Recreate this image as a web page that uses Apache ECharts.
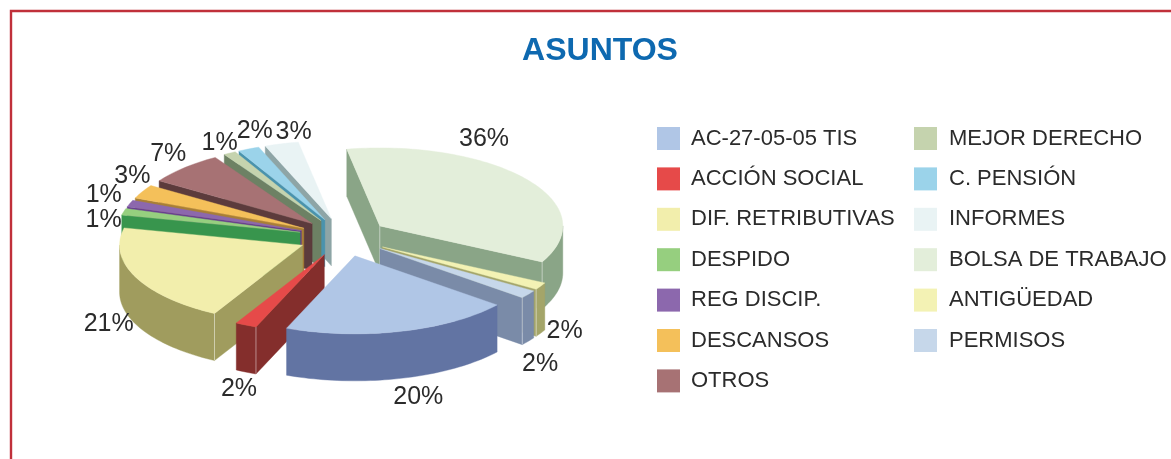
<!DOCTYPE html>
<html><head><meta charset="utf-8">
<style>html,body{margin:0;padding:0;background:#fff;overflow:hidden}#c{width:1171px;height:459px}</style>
<script src="https://cdn.jsdelivr.net/npm/echarts@6/dist/echarts.min.js"></script>
</head><body><div id="c"></div>
<script>
// Data, clockwise in legend order
const categories = ['AC-27-05-05 TIS','ACCIÓN SOCIAL','DIF. RETRIBUTIVAS','DESPIDO','REG DISCIP.','DESCANSOS','OTROS','MEJOR DERECHO','C. PENSIÓN','INFORMES','BOLSA DE TRABAJO','ANTIGÜEDAD','PERMISOS'];
const percentages = [20.3,1.9,20.6,1.4,1.4,2.9,6.9,1.1,1.9,3.0,35.6,1.5,1.7];
// Styles
const topColors = ['#b0c6e6','#e64a49','#f2eeac','#96cf7f','#8c68ad','#f4c05a','#a77274','#c5d3ae','#9bd3ea','#e9f3f4','#e3eeda','#f3f2b4','#c6d7ea'];
const sideColors = ['#6274a3','#842e2c','#a09c5e','#38954d','#65398d','#a87f36','#5c3b3c','#6d8164','#4a93ad','#8ea5a6','#8aa587','#a4a569','#7a8ba8'];
// Layout
const center = [343.6,237.3], rx = 183, ry = 78, depth = 47, explode = 45, startDeg = 129;
const labelNudges = [[17.5,65.6],[-7,64],[-27,47],[-20,8],[-26,-8],[-10,-16],[-16,-14],[-10,-10],[6,-18],[12,-12],[-43,-40],[24,45],[12,70]];

const rad = d => d*Math.PI/180;
const total = percentages.reduce((a,b)=>a+b,0);
let cum = startDeg;
const slices = percentages.map((v,i)=>{const s=cum,e=cum+v/total*360;cum=e;return {i,s,e,b:(s+e)/2};});

function renderSlice(sl){
  return function(params, api){
    const v = api.value(0);
    const bRad = rad(sl.b);
    const ax = center[0]+explode*Math.sin(bRad);
    const ay = center[1]-explode*(ry/rx)*Math.cos(bRad);
    const pt = t => [ax+rx*Math.sin(rad(t)), ay-ry*Math.cos(rad(t))];
    const down = p => [p[0],p[1]+depth];
    const children = [];
    const top = topColors[sl.i], side = sideColors[sl.i];
    const poly = (pts,fill)=>children.push({type:'polygon',shape:{points:pts},style:{fill,stroke:fill,lineWidth:0.4}});
    const seam = (p)=>children.push({type:'line',shape:{x1:p[0],y1:p[1],x2:p[0],y2:p[1]+depth},style:{stroke:'rgba(255,255,255,0.45)',lineWidth:1}});
    const arcPts = (a,b)=>{const r=[];const n=Math.max(2,Math.ceil(Math.abs(b-a)/1.5));for(let k=0;k<=n;k++)r.push(pt(a+(b-a)*k/n));return r;};
    const apex=[ax,ay];
    const sn=t=>Math.sin(rad(t));
    const A=pt(sl.s),B=pt(sl.e);
    const startVisible=sn(sl.s)<0, endVisible=sn(sl.e)>0;
    if(startVisible) poly([apex,A,down(A),down(apex)],side);
    if(endVisible) poly([apex,B,down(B),down(apex)],side);
    // outer wall, front half only (angles may run past a full turn)
    [0,-360].forEach(shift=>{
      const s=sl.s+shift,e=sl.e+shift;
      const lo=Math.max(s,90),hi=Math.min(e,270);
      if(hi>lo){const a=arcPts(lo,hi);poly(a.concat(a.slice().reverse().map(down)),side);}
      if(startVisible&&s>=90&&s<=270) seam(A);
      if(endVisible&&e>=90&&e<=270) seam(B);
    });
    if(endVisible&&sl.i===10) seam(apex);
    poly([apex].concat(arcPts(sl.s,sl.e)),top);
    // label at the slice's outer arc midpoint, nudged
    const m=pt(sl.b),n=labelNudges[sl.i];
    children.push({type:'text',z2:100,style:{text:Math.round(v)+'%',x:m[0]+n[0],y:m[1]+n[1],textAlign:'center',textVerticalAlign:'middle',font:'25px "Liberation Sans"',fill:'#2b2b2b'}});
    return {type:'group',children};
  };
}
// Back-to-front drawing order
const order = slices.slice().sort((a,b)=>(-Math.cos(rad(a.b)))-(-Math.cos(rad(b.b))));
const series = order.map(sl=>({
  name:categories[sl.i], type:'custom', coordinateSystem:'none', silent:true,
  itemStyle:{color:topColors[sl.i]}, data:[[percentages[sl.i]]], renderItem:renderSlice(sl), animation:false
}));
const legendBase = {orient:'vertical',icon:'rect',itemWidth:23,itemHeight:23,itemGap:17.4,selectedMode:false,padding:0,itemStyle:{borderWidth:0}};
const legendText = pad => ({fontFamily:'Liberation Sans',fontSize:22,color:'#2b2b2b',padding:[2,0,0,pad]});
const chart = echarts.init(document.getElementById('c'),null,{renderer:'canvas'});
chart.setOption({
  animation:false, backgroundColor:'#fff',
  title:{text:'ASUNTOS',left:595,top:30,textAlign:'center',textStyle:{fontFamily:'Liberation Sans',fontWeight:'bold',fontSize:32,color:'#0e69b0'}},
  legend:[
    Object.assign({},legendBase,{left:657,top:127,textStyle:legendText(6),data:categories.slice(0,7)}),
    Object.assign({},legendBase,{left:914,top:127,textStyle:legendText(7),data:categories.slice(7)})
  ],
  graphic:[{type:'rect',silent:true,shape:{x:11,y:11,width:1400,height:800},style:{fill:'none',stroke:'#c0303a',lineWidth:2.4}}],
  series
});
</script></body></html>
